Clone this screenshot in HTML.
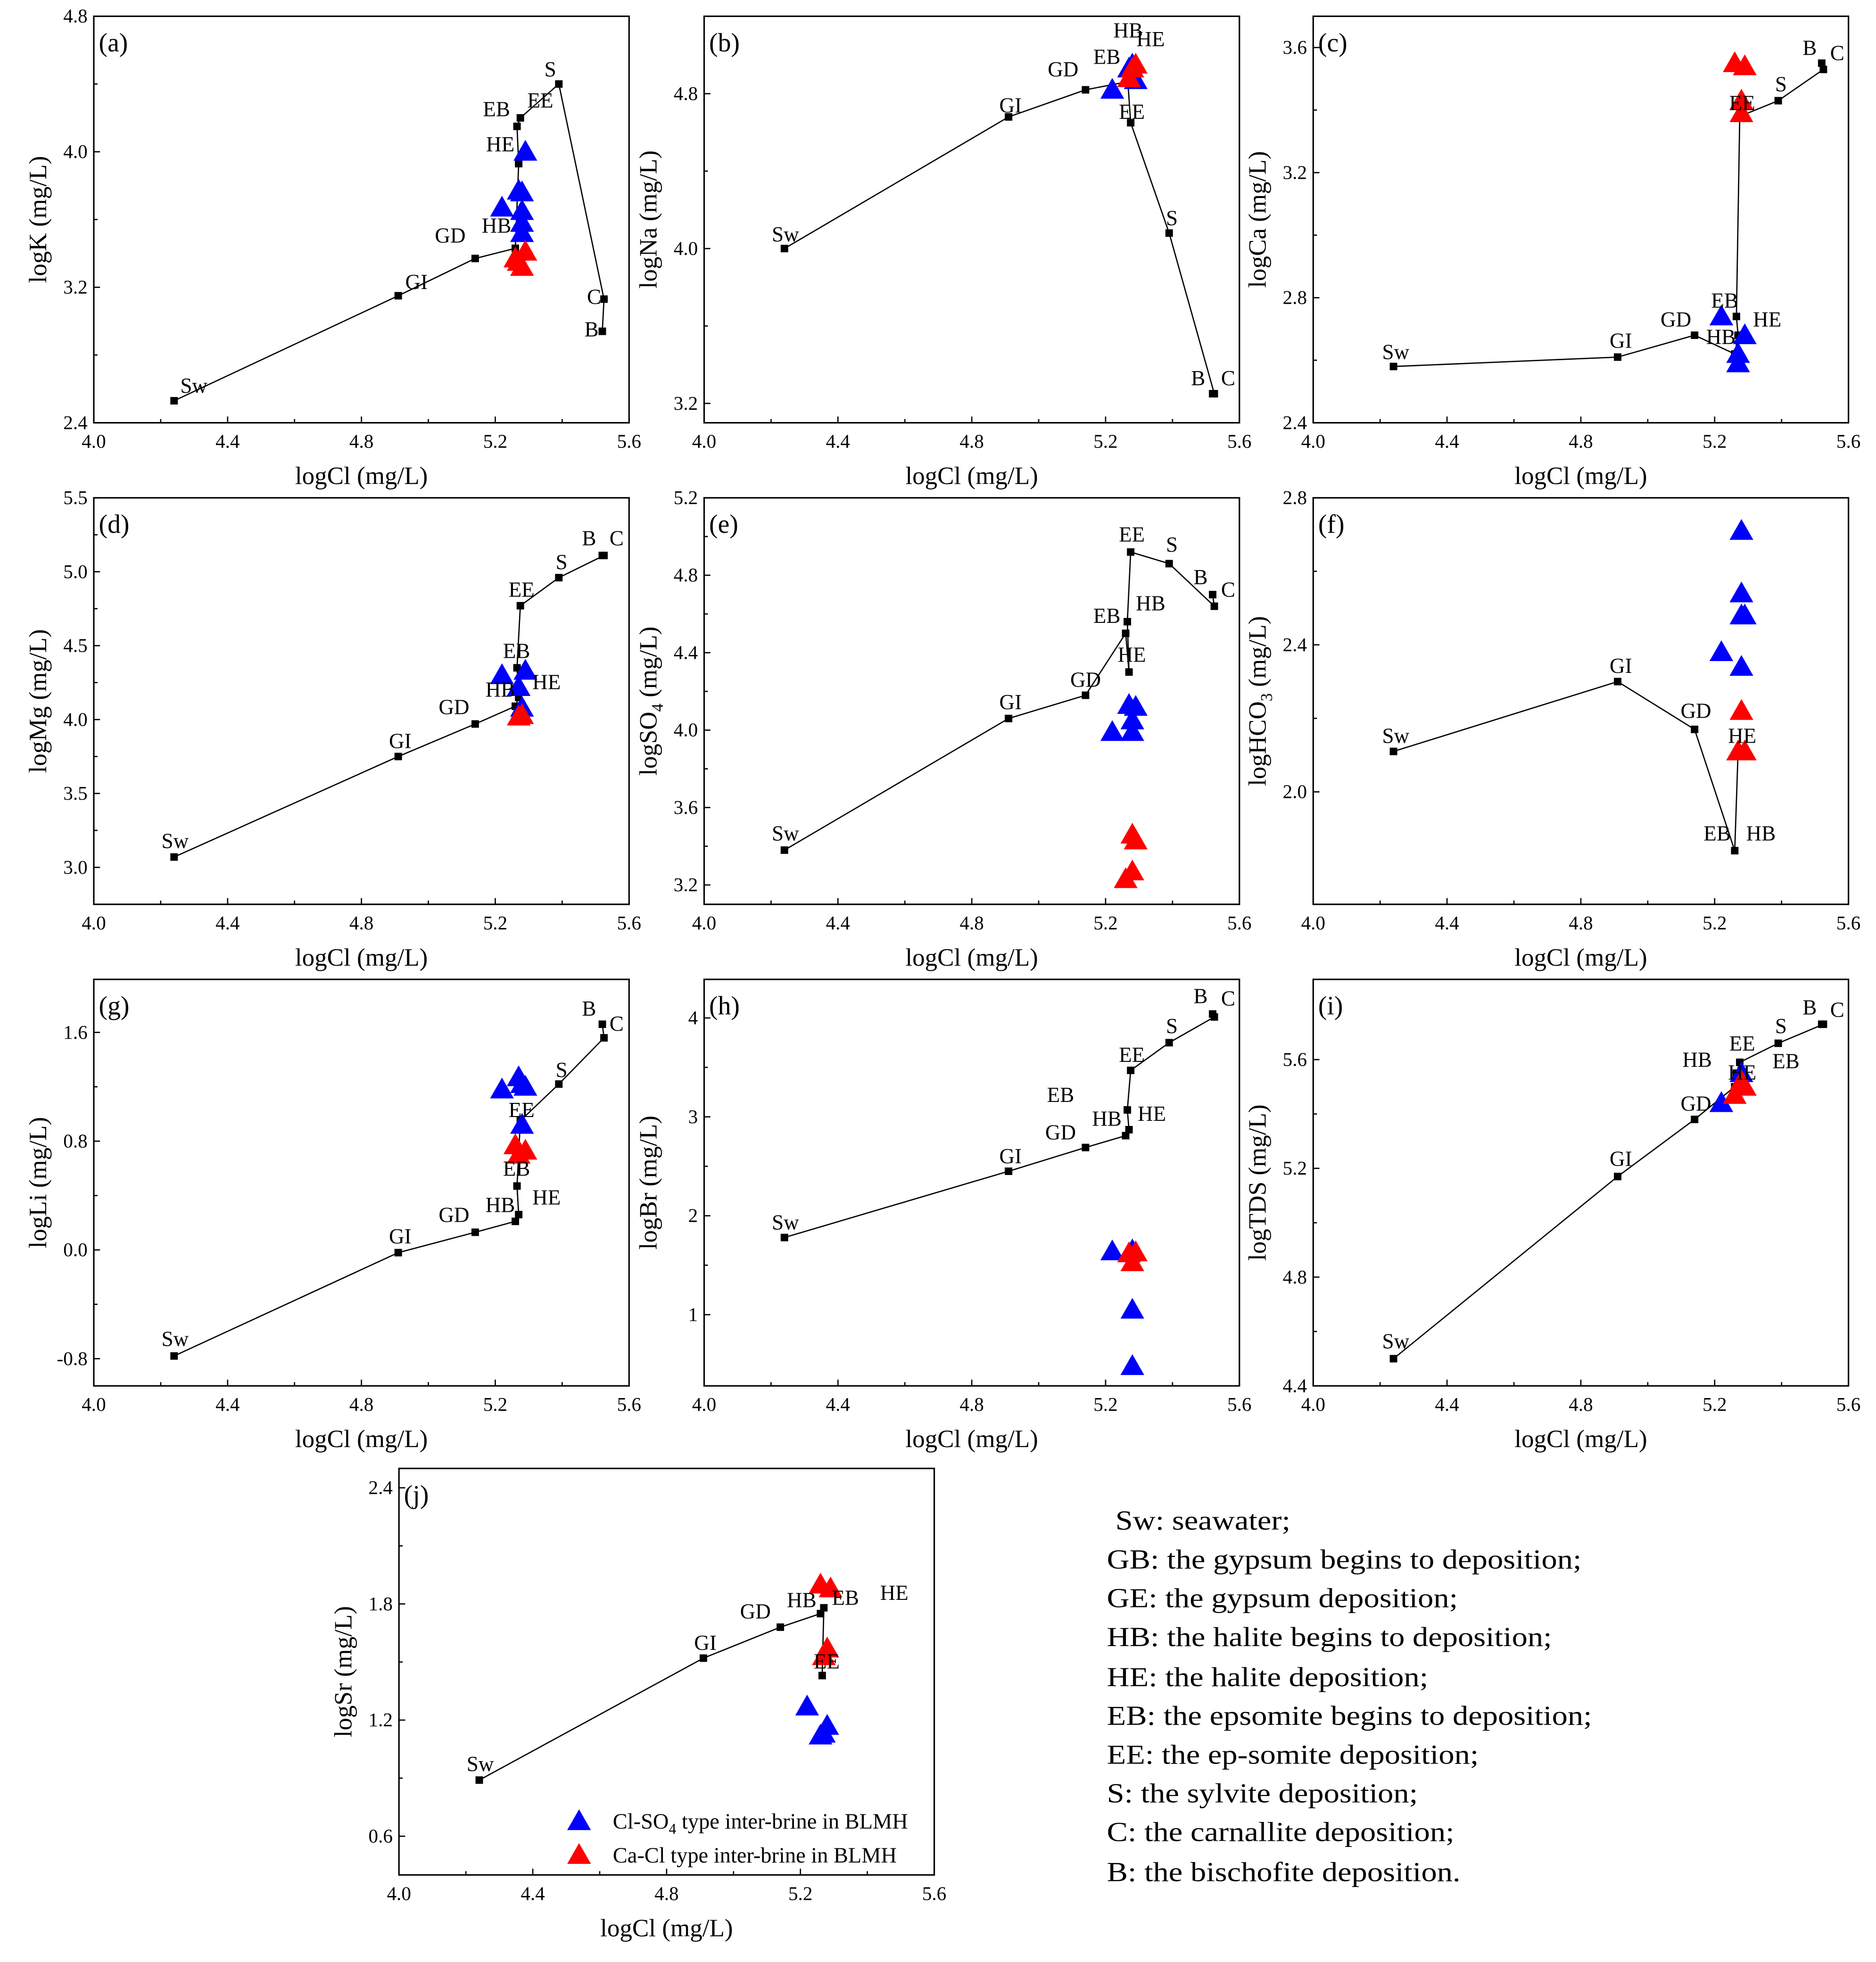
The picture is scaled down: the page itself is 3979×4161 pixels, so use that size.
<!DOCTYPE html>
<html><head><meta charset="utf-8"><style>
html,body{margin:0;padding:0;background:#fff;}
svg{display:block;font-family:"Liberation Serif",serif;}
</style></head><body>
<svg id="fig" xmlns="http://www.w3.org/2000/svg" width="3979" height="4161" viewBox="0 0 1500 1568.6" font-family="'Liberation Serif', serif">
<rect width="1500" height="1568.6" fill="#fff"/>
<g id="legend-text" font-size="22" transform="translate(885 0) scale(1.14 1) translate(-885 0)">
<text x="891" y="1223">Sw: seawater;</text>
<text x="885" y="1254">GB: the gypsum begins to deposition;</text>
<text x="885" y="1285">GE: the gypsum deposition;</text>
<text x="885" y="1316">HB: the halite begins to deposition;</text>
<text x="885" y="1348">HE: the halite deposition;</text>
<text x="885" y="1379">EB: the epsomite begins to deposition;</text>
<text x="885" y="1410">EE: the ep-somite deposition;</text>
<text x="885" y="1441">S: the sylvite deposition;</text>
<text x="885" y="1472">C: the carnallite deposition;</text>
<text x="885" y="1504">B: the bischofite deposition.</text>
</g>
</svg>
<script>
// shared model path logCl values
const pathCl = [4.24, 4.91, 5.14, 5.26, 5.27, 5.265, 5.275, 5.39, 5.525, 5.52];
const xTicks = [4.0, 4.4, 4.8, 5.2, 5.6];
const xTickLabels = ["4.0", "4.4", "4.8", "5.2", "5.6"];

// per-panel model values (null = not plotted)
const kVals   = [2.53, 3.15, 3.37, 3.43, 3.93, 4.15, 4.20, 4.40, 3.13, 2.94];
const naVals  = [4.0, 4.68, 4.82, 4.86, 4.93, 4.90, 4.65, 4.08, 3.25, 3.25];
const caVals  = [2.58, 2.61, 2.68, 2.62, 2.68, 2.74, 3.38, 3.43, 3.53, 3.55];
const mgVals  = [3.07, 3.75, 3.97, 4.09, 4.15, 4.35, 4.77, 4.96, 5.11, 5.11];
const so4Vals = [3.38, 4.06, 4.18, 4.50, 4.30, 4.56, 4.92, 4.86, 4.64, 4.70];
const hco3Vals= [2.11, 2.30, 2.17, 1.84, 2.11, null, null, null, null, null];
const liVals  = [-0.78, -0.02, 0.13, 0.21, 0.26, 0.47, 0.95, 1.22, 1.56, 1.66];
const brVals  = [1.78, 2.45, 2.69, 2.81, 2.87, 3.07, 3.47, 3.75, 4.01, 4.04];
const tdsVals = [4.50, 5.17, 5.38, 5.50, 5.50, 5.55, 5.59, 5.66, 5.73, 5.73];
const srVals  = [0.89, 1.52, 1.68, 1.75, 1.78, 1.43, null, null, null, null];

// samples: blue = Cl-SO4 type, red = Ca-Cl type
const kBlueX=[5.22,5.29,5.27,5.28,5.28,5.28,5.28], kBlueY=[3.67,4.0,3.77,3.76,3.65,3.58,3.52];
const kRedX=[5.29,5.26,5.28,5.27], kRedY=[3.41,3.37,3.32,3.35];
const naBlueX=[5.22,5.27,5.29,5.28], naBlueY=[4.82,4.93,4.87,4.95];
const naRedX=[5.27,5.29,5.28], naRedY=[4.88,4.95,4.93];
const caBlueX=[5.22,5.29,5.27,5.27], caBlueY=[2.74,2.68,2.62,2.59];
const caRedX=[5.26,5.29,5.28,5.28], caRedY=[3.55,3.54,3.43,3.39];
const mgBlueX=[5.22,5.29,5.27,5.28], mgBlueY=[4.30,4.33,4.22,4.08];
const mgRedX=[5.27,5.28], mgRedY=[4.02,4.03];
const so4BlueX=[5.22,5.27,5.29,5.28,5.28], so4BlueY=[3.99,4.13,4.12,4.05,3.99];
const so4RedX=[5.28,5.29,5.28,5.26], so4RedY=[3.46,3.43,3.27,3.23];
const hco3BlueX=[5.28,5.28,5.29,5.28,5.22,5.28], hco3BlueY=[2.71,2.54,2.48,2.48,2.38,2.34];
const hco3RedX=[5.28,5.27,5.29], hco3RedY=[2.22,2.11,2.11];
const liBlueX=[5.22,5.27,5.28,5.29,5.28], liBlueY=[1.18,1.27,1.22,1.20,0.92];
const liRedX=[5.26,5.29,5.27], liRedY=[0.77,0.73,0.70];
const brBlueX=[5.22,5.28,5.28,5.28], brBlueY=[1.64,1.65,1.05,0.48];
const brRedX=[5.27,5.29,5.28], brRedY=[1.62,1.63,1.53];
const tdsBlueX=[5.22,5.28], tdsBlueY=[5.44,5.55];
const tdsRedX=[5.26,5.29,5.28], tdsRedY=[5.47,5.50,5.52];
const srBlueX=[5.22,5.28,5.27,5.26], srBlueY=[1.27,1.17,1.13,1.12];
const srRedX=[5.26,5.29,5.28,5.27], srRedY=[1.90,1.88,1.57,1.53];

const NS="http://www.w3.org/2000/svg";
const svg=document.getElementById('fig');
function mk(tag,attrs,parent){const e=document.createElementNS(NS,tag);for(const k in attrs)e.setAttribute(k,attrs[k]);(parent||svg).appendChild(e);return e;}

const panels=[
 {id:'a',name:'logk',x0:75,y0:13,ymin:2.4,ymax:4.8,yt:[2.4,3.2,4.0,4.8],ytl:["2.4","3.2","4.0","4.8"],lab:['logK (mg/L)'],vals:kVals,bx:kBlueX,by:kBlueY,rx:kRedX,ry:kRedY,
  L:[['Sw',155,308],['GI',333,225],['GD',360,188],['HB',397,180],['HE',400,115],['EB',397,87],['EE',432,80],['S',440,55],['C',475,237],['B',473,263]]},
 {id:'b',name:'logna',x0:563,y0:13,ymin:3.1,ymax:5.2,yt:[3.2,4.0,4.8],ytl:["3.2","4.0","4.8"],lab:['logNa (mg/L)'],vals:naVals,bx:naBlueX,by:naBlueY,rx:naRedX,ry:naRedY,
  L:[['Sw',628,187],['GI',808,84],['GD',850,55],['EB',885,45],['HB',902,24],['HE',920,31],['EE',905,89],['S',937,174],['B',958,302],['C',982,302]]},
 {id:'c',name:'logca',x0:1050,y0:13,ymin:2.4,ymax:3.7,yt:[2.4,2.8,3.2,3.6],ytl:["2.4","2.8","3.2","3.6"],lab:['logCa (mg/L)'],vals:caVals,bx:caBlueX,by:caBlueY,rx:caRedX,ry:caRedY,
  L:[['Sw',1116,281],['GI',1296,272],['GD',1340,255],['EB',1379,240],['HB',1376,269],['HE',1413,255],['EE',1393,82],['S',1424,67],['B',1447,38],['C',1469,42]]},
 {id:'d',name:'logmg',x0:75,y0:398,ymin:2.75,ymax:5.5,yt:[3.0,3.5,4.0,4.5,5.0,5.5],ytl:["3.0","3.5","4.0","4.5","5.0","5.5"],lab:['logMg (mg/L)'],vals:mgVals,bx:mgBlueX,by:mgBlueY,rx:mgRedX,ry:mgRedY,
  L:[['Sw',140,672],['GI',320,592],['GD',363,565],['HB',400,551],['HE',437,545],['EB',413,520],['EE',417,471],['S',449,449],['B',471,430],['C',493,430]]},
 {id:'e',name:'logso4',x0:563,y0:398,ymin:3.1,ymax:5.2,yt:[3.2,3.6,4.0,4.4,4.8,5.2],ytl:["3.2","3.6","4.0","4.4","4.8","5.2"],lab:['logSO','4',' (mg/L)'],vals:so4Vals,bx:so4BlueX,by:so4BlueY,rx:so4RedX,ry:so4RedY,
  L:[['Sw',628,666],['GI',808,561],['GD',868,543],['EB',885,492],['HB',920,482],['HE',905,523],['EE',905,427],['S',937,435],['B',960,461],['C',982,471]]},
 {id:'f',name:'loghco3',x0:1050,y0:398,ymin:1.694,ymax:2.8,yt:[2.0,2.4,2.8],ytl:["2.0","2.4","2.8"],lab:['logHCO','3',' (mg/L)'],vals:hco3Vals,bx:hco3BlueX,by:hco3BlueY,rx:hco3RedX,ry:hco3RedY,
  L:[['Sw',1116,588],['GI',1296,532],['GD',1356,568],['HE',1393,588],['EB',1373,666],['HB',1408,666]]},
 {id:'g',name:'logli',x0:75,y0:783,ymin:-1.0,ymax:1.99,yt:[-0.8,0,0.8,1.6],ytl:["-0.8","0.0","0.8","1.6"],lab:['logLi (mg/L)'],vals:liVals,bx:liBlueX,by:liBlueY,rx:liRedX,ry:liRedY,
  L:[['Sw',140,1070],['GI',320,988],['GD',363,971],['HB',400,963],['HE',437,957],['EB',413,934],['EE',417,887],['S',449,855],['B',471,806],['C',493,818]]},
 {id:'h',name:'logbr',x0:563,y0:783,ymin:0.28,ymax:4.39,yt:[1,2,3,4],ytl:["1","2","3","4"],lab:['logBr (mg/L)'],vals:brVals,bx:brBlueX,by:brBlueY,rx:brRedX,ry:brRedY,
  L:[['Sw',628,977],['GI',808,924],['GD',848,905],['HB',885,894],['HE',921,890],['EB',848,875],['EE',905,843],['S',937,820],['B',960,796],['C',982,798]]},
 {id:'i',name:'logtds',x0:1050,y0:783,ymin:4.4,ymax:5.895,yt:[4.4,4.8,5.2,5.6],ytl:["4.4","4.8","5.2","5.6"],lab:['logTDS (mg/L)'],vals:tdsVals,bx:tdsBlueX,by:tdsBlueY,rx:tdsRedX,ry:tdsRedY,
  L:[['Sw',1116,1072],['GI',1296,926],['GD',1356,882],['HB',1357,847],['HE',1393,857],['EB',1428,848],['EE',1393,834],['S',1424,820],['B',1447,805],['C',1469,807]]},
 {id:'j',name:'logsr',x0:319,y0:1174,ymin:0.4,ymax:2.5,yt:[0.6,1.2,1.8,2.4],ytl:["0.6","1.2","1.8","2.4"],lab:['logSr (mg/L)'],vals:srVals,bx:srBlueX,by:srBlueY,rx:srRedX,ry:srRedY,
  L:[['Sw',384,1410],['GI',564,1313],['GD',604,1288],['HB',641,1279],['EB',676,1277],['HE',715,1273],['EE',661,1328]]}
];
const W=428,H=325;

function tri(g,cx,cy,color,nm){
  const s=9.5;
  const p=mk('polygon',{points:`${cx},${cy-s} ${cx-s},${cy+s*0.75} ${cx+s},${cy+s*0.75}`,fill:color},g);
  
  
}

panels.forEach(P=>{
  const g=mk('g',{});
  
  
  const sx=v=>P.x0+(v-4.0)/1.6*W;
  const sy=v=>P.y0+H-(v-P.ymin)/(P.ymax-P.ymin)*H;
  const fr=mk('rect',{x:P.x0,y:P.y0,width:W,height:H,fill:'none',stroke:'#000','stroke-width':1.2},g);
  
  
  xTicks.forEach((t,i)=>{
    const x=sx(t);
    mk('line',{x1:x,y1:P.y0+H,x2:x,y2:P.y0+H-5,stroke:'#000','stroke-width':1},g);
    if(i<xTicks.length-1){const xm=sx(t+0.2);mk('line',{x1:xm,y1:P.y0+H,x2:xm,y2:P.y0+H-3,stroke:'#000','stroke-width':1},g);}
    const tl=mk('text',{x:x,y:P.y0+H+20,'font-size':15.5,'text-anchor':'middle'},g);
    tl.textContent=xTickLabels[i];
    
    
  });
  P.yt.forEach((t,i)=>{
    const y=sy(t);
    mk('line',{x1:P.x0,y1:y,x2:P.x0+5,y2:y,stroke:'#000','stroke-width':1},g);
    if(i<P.yt.length-1){const ym=sy((t+P.yt[i+1])/2);mk('line',{x1:P.x0,y1:ym,x2:P.x0+3,y2:ym,stroke:'#000','stroke-width':1},g);}
    const tl=mk('text',{x:P.x0-5,y:y+5,'font-size':15.5,'text-anchor':'end'},g);
    tl.textContent=P.ytl[i];
    
    
  });
  const xt=mk('text',{x:P.x0+W/2,y:P.y0+H+49,'font-size':20,'text-anchor':'middle'},g);
  xt.textContent='logCl (mg/L)';
  
  
  const yx=P.x0-38, yy=P.y0+H/2;
  const yt=mk('text',{x:yx,y:yy,'font-size':20,'text-anchor':'middle',transform:`rotate(-90 ${yx} ${yy})`},g);
  
  
  if(P.lab.length===1){yt.textContent=P.lab[0];}
  else{
    const a=mk('tspan',{},yt);a.textContent=P.lab[0];
    const b=mk('tspan',{'font-size':13,dy:5},yt);b.textContent=P.lab[1];
    const c=mk('tspan',{dy:-5},yt);c.textContent=P.lab[2];
  }
  const tag=mk('text',{x:P.x0+4,y:P.y0+28,'font-size':21},g);
  tag.textContent='('+P.id+')';
  
  
  const pts=[];
  P.vals.forEach((v,i)=>{if(v!==null)pts.push([sx(pathCl[i]),sy(v)]);});
  const pl=mk('polyline',{points:pts.map(p=>p.join(',')).join(' '),fill:'none',stroke:'#000','stroke-width':1},g);
  
  
  pts.forEach(p=>{
    const r=mk('rect',{x:p[0]-3,y:p[1]-3,width:6,height:6,fill:'#000'},g);
    
    
  });
  P.bx.forEach((x,i)=>tri(g,sx(x),sy(P.by[i]),'#0000ff','cl-so4-sample'));
  P.rx.forEach((x,i)=>tri(g,sx(x),sy(P.ry[i]),'#ff0000','ca-cl-sample'));
  P.L.forEach(l=>{
    const t=mk('text',{x:l[1],y:l[2]+6,'font-size':17,'text-anchor':'middle'},g);
    t.textContent=l[0];
    
    
  });
});

const lg=mk('g',{});


tri(lg,463,1456,'#0000ff','legend-marker-cl-so4');
tri(lg,463,1483,'#ff0000','legend-marker-ca-cl');
const l1=mk('text',{x:490,y:1462,'font-size':17.5},lg);


const a1=mk('tspan',{},l1);a1.textContent='Cl-SO';
const a2=mk('tspan',{'font-size':12,dy:4},l1);a2.textContent='4';
const a3=mk('tspan',{dy:-4},l1);a3.textContent=' type inter-brine in BLMH';
const l2=mk('text',{x:490,y:1489,'font-size':17.5},lg);
l2.textContent='Ca-Cl type inter-brine in BLMH';


</script>
</body></html>
